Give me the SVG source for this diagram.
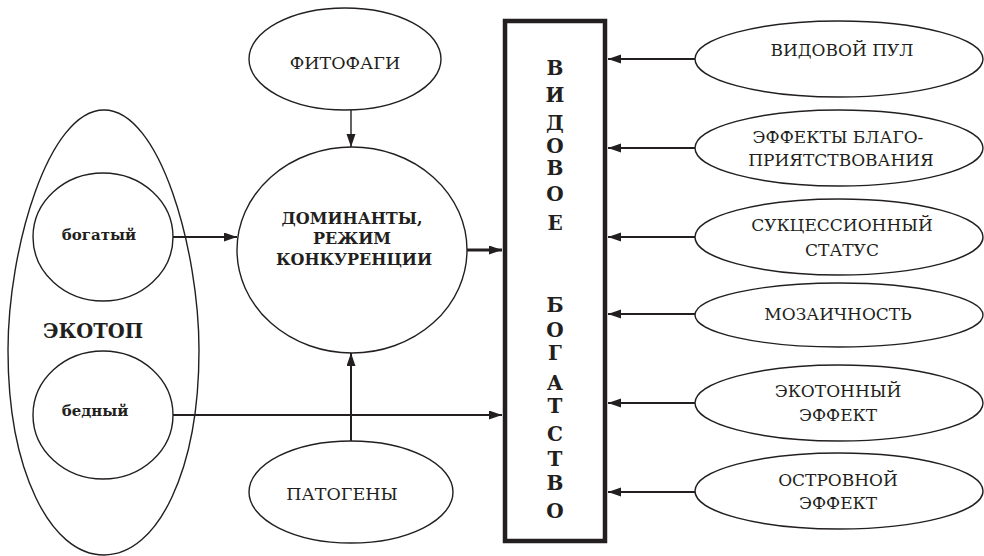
<svg xmlns="http://www.w3.org/2000/svg" width="984" height="556" viewBox="0 0 984 556">
<style>
.n{fill:#fff;stroke:#231f20;stroke-width:1.4}
.t{font-family:"DejaVu Serif","Liberation Serif",serif;font-size:17px;fill:#231f20;text-anchor:middle}
.b{font-weight:bold}
.c{stroke:#231f20;fill:none}
</style>
<defs>
<marker id="ah" markerUnits="userSpaceOnUse" markerWidth="14" markerHeight="10" refX="13" refY="4.5" orient="auto">
<path d="M0,0 L13,4.5 L0,9 z" fill="#231f20"/>
</marker>
</defs>
<rect width="984" height="556" fill="#fff"/>
<g id="ekotop">
<path class="n" d="M104,110 C48,110 8,250 8,350 C8,470 50,555 104,555 C158,555 199,470 199,350 C199,250 160,110 104,110 Z"/>
<text class="t b" x="93" y="338" style="font-size:19.5px">ЭКОТОП</text>
</g>
<g id="bogatyi">
<ellipse class="n" cx="103" cy="237" rx="70" ry="64"/>
<text class="t b" x="99" y="240" style="font-size:15px">богатый</text>
</g>
<g id="bednyi">
<ellipse class="n" cx="103" cy="415" rx="70" ry="64"/>
<text class="t b" x="95" y="416" style="font-size:15px">бедный</text>
</g>
<g id="fitofagi">
<ellipse class="n" cx="345" cy="59" rx="96" ry="51"/>
<text class="t" x="345" y="69" style="font-size:17.5px">ФИТОФАГИ</text>
</g>
<g id="dominanty">
<ellipse class="n" cx="352" cy="250" rx="115" ry="103"/>
<g class="t b" style="font-size:16px">
<text x="352" y="224">ДОМИНАНТЫ,</text>
<text x="352" y="244">РЕЖИМ</text>
<text x="354" y="265">КОНКУРЕНЦИИ</text>
</g>
</g>
<g id="patogeny">
<ellipse class="n" cx="351" cy="492" rx="102" ry="51"/>
<text class="t" x="342" y="500" style="font-size:17.5px">ПАТОГЕНЫ</text>
</g>
<g id="bogatstvo">
<rect x="505" y="21" width="100" height="520" fill="#fff" stroke="#231f20" stroke-width="4.5"/>
<g class="t b" style="font-size:20px">
<text x="555" y="75">В</text>
<text x="555" y="102">И</text>
<text x="555" y="130">Д</text>
<text x="555" y="153">О</text>
<text x="555" y="175">В</text>
<text x="555" y="201">О</text>
<text x="555" y="230">Е</text>
<text x="555" y="312">Б</text>
<text x="555" y="337">О</text>
<text x="555" y="360">Г</text>
<text x="555" y="390">А</text>
<text x="555" y="413">Т</text>
<text x="555" y="441">С</text>
<text x="555" y="466">Т</text>
<text x="555" y="490">В</text>
<text x="555" y="518">О</text>
</g>
</g>
<g id="vidovoi_pul">
<ellipse class="n" cx="839" cy="59" rx="144" ry="38"/>
<text class="t" x="842" y="56">ВИДОВОЙ ПУЛ</text>
</g>
<g id="effekty">
<ellipse class="n" cx="839" cy="148" rx="144" ry="38"/>
<g class="t">
<text x="838" y="143">ЭФФЕКТЫ БЛАГО-</text>
<text x="841" y="166">ПРИЯТСТВОВАНИЯ</text>
</g>
</g>
<g id="sukcessionnyi">
<ellipse class="n" cx="839" cy="237" rx="144" ry="38"/>
<g class="t">
<text x="842" y="231">СУКЦЕССИОННЫЙ</text>
<text x="842" y="256">СТАТУС</text>
</g>
</g>
<g id="mozaichnost">
<ellipse class="n" cx="839" cy="315" rx="144" ry="32"/>
<text class="t" x="838" y="320">МОЗАИЧНОСТЬ</text>
</g>
<g id="ekotonnyi">
<ellipse class="n" cx="839" cy="403" rx="144" ry="38"/>
<g class="t">
<text x="838" y="397">ЭКОТОННЫЙ</text>
<text x="838" y="421">ЭФФЕКТ</text>
</g>
</g>
<g id="ostrovnoi">
<ellipse class="n" cx="839" cy="491" rx="144" ry="38"/>
<g class="t">
<text x="838" y="486">ОСТРОВНОЙ</text>
<text x="838" y="509">ЭФФЕКТ</text>
</g>
</g>
<g id="connectors">
<line class="c" x1="351" y1="110" x2="351" y2="147" stroke-width="1.4" marker-end="url(#ah)"/>
<line class="c" x1="173" y1="237" x2="237" y2="237" stroke-width="2" marker-end="url(#ah)"/>
<line class="c" x1="467" y1="250" x2="502" y2="250" stroke-width="3" marker-end="url(#ah)"/>
<line class="c" x1="173" y1="415" x2="502" y2="415" stroke-width="2" marker-end="url(#ah)"/>
<line class="c" x1="351" y1="441" x2="351" y2="353" stroke-width="2" marker-end="url(#ah)"/>
<line class="c" x1="695" y1="59" x2="608" y2="59" stroke-width="2" marker-end="url(#ah)"/>
<line class="c" x1="695" y1="148" x2="608" y2="148" stroke-width="2" marker-end="url(#ah)"/>
<line class="c" x1="695" y1="237" x2="608" y2="237" stroke-width="2" marker-end="url(#ah)"/>
<line class="c" x1="695" y1="314" x2="608" y2="314" stroke-width="2" marker-end="url(#ah)"/>
<line class="c" x1="695" y1="403" x2="608" y2="403" stroke-width="2" marker-end="url(#ah)"/>
<line class="c" x1="695" y1="492" x2="608" y2="492" stroke-width="2" marker-end="url(#ah)"/>
</g>
</svg>
